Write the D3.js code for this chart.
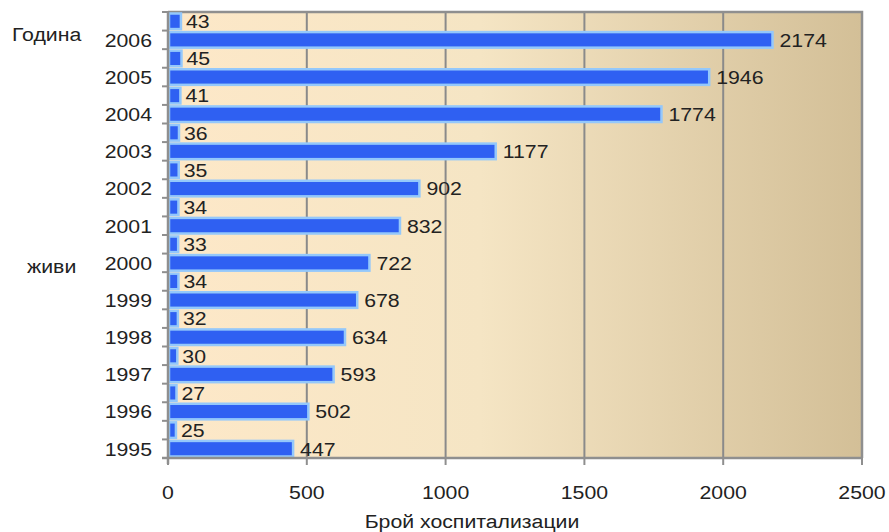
<!DOCTYPE html>
<html><head><meta charset="utf-8">
<script src="https://cdn.jsdelivr.net/npm/d3@7/dist/d3.min.js"></script>
<style>body{margin:0;background:#fff}svg{display:block;font-family:"Liberation Sans",Arial,sans-serif}</style>
</head><body><svg id="c" width="889" height="532"></svg>
<script>
const years = ["2006","2005","2004","2003","2002","2001","2000","1999","1998","1997","1996","1995"];
const hospitalizations = [2174,1946,1774,1177,902,832,722,678,634,593,502,447];
const deaths = [43,45,41,36,35,34,33,34,32,30,27,25];
const xTicks = [0,500,1000,1500,2000,2500];

const svg = d3.select("#c");
const L=168, R=862, T=12, B=458;
const FS = 19, SX = 1.12;
const x = d3.scaleLinear().domain([0,2500]).range([L,R]);
const y = d3.scaleBand().domain(years).range([T,B]).padding(0);
const half = y.bandwidth()/2;

function label(parent, px, py, txt, anchor){
  return parent.append("text")
    .attr("transform",`translate(${px},${py}) scale(${SX},1)`)
    .attr("dy","0.36em").attr("text-anchor",anchor||"start")
    .attr("font-size",FS).attr("fill","#222").text(txt);
}

const defs = svg.append("defs");
const g = defs.append("linearGradient").attr("id","bg").attr("x1","0").attr("x2","1").attr("y1","0").attr("y2","0");
g.append("stop").attr("offset","0").attr("stop-color","#fde8c8");
g.append("stop").attr("offset","0.45").attr("stop-color","#f5e5c4");
g.append("stop").attr("offset","1").attr("stop-color","#d3bf97");

svg.append("rect").attr("x",L).attr("y",T).attr("width",R-L).attr("height",B-T).attr("fill","url(#bg)");

// gridlines
svg.append("g").selectAll("line").data(xTicks.slice(1,-1)).join("line")
  .attr("x1",d=>x(d)).attr("x2",d=>x(d)).attr("y1",T).attr("y2",B)
  .attr("stroke","#8a8a8a").attr("stroke-width",2);

// border top & right
svg.append("path").attr("d",`M${L},${T}H${R}V${B}`).attr("fill","none").attr("stroke","#8f8f8f").attr("stroke-width",2.5);

// bars
const bars = svg.append("g");
years.forEach((yr,i)=>{
  const y0 = y(yr);
  bars.append("rect").attr("x",x(0)+1).attr("y",y0+1.5).attr("width",Math.max(0,x(deaths[i])-x(0)))
    .attr("height",half-3).attr("fill","#2f60f2").attr("stroke","#94c8fb").attr("stroke-width",2.5);
  bars.append("rect").attr("x",x(0)+1).attr("y",y0+half+1.5).attr("width",x(hospitalizations[i])-x(0))
    .attr("height",half-3).attr("fill","#2f60f2").attr("stroke","#94c8fb").attr("stroke-width",2.5);
});

// value labels
const lab = svg.append("g");
years.forEach((yr,i)=>{
  const y0 = y(yr);
  label(lab, x(deaths[i])+6, y0+half/2, deaths[i]);
  label(lab, x(hospitalizations[i])+8, y0+half*1.5, hospitalizations[i]);
});

// left axis
const ax = svg.append("g");
ax.append("line").attr("x1",L).attr("x2",L).attr("y1",T-1).attr("y2",B+6).attr("stroke","#8f8f8f").attr("stroke-width",2.5);
const tickYs = d3.range(0, years.length*2+1).map(k=>T+k*half);
ax.selectAll(".ty").data(tickYs).join("line").attr("x1",L-6).attr("x2",L).attr("y1",d=>d).attr("y2",d=>d)
  .attr("stroke","#8f8f8f").attr("stroke-width",2);
years.forEach(yr=>label(ax, 152, y(yr)+half*1.5, yr, "end"));

// bottom axis
const bx = svg.append("g");
bx.append("line").attr("x1",L-6).attr("x2",R+1).attr("y1",B).attr("y2",B).attr("stroke","#8f8f8f").attr("stroke-width",2.5);
bx.selectAll(".tx").data(xTicks).join("line").attr("x1",d=>x(d)).attr("x2",d=>x(d)).attr("y1",B).attr("y2",B+7)
  .attr("stroke","#8f8f8f").attr("stroke-width",2);
xTicks.forEach(t=>label(bx, x(t), 492, t, "middle"));

label(svg, 472, 521, "Брой хоспитализации", "middle");
label(svg, 12, 34, "Година");
label(svg, 27, 266, "живи");
</script></body></html>
